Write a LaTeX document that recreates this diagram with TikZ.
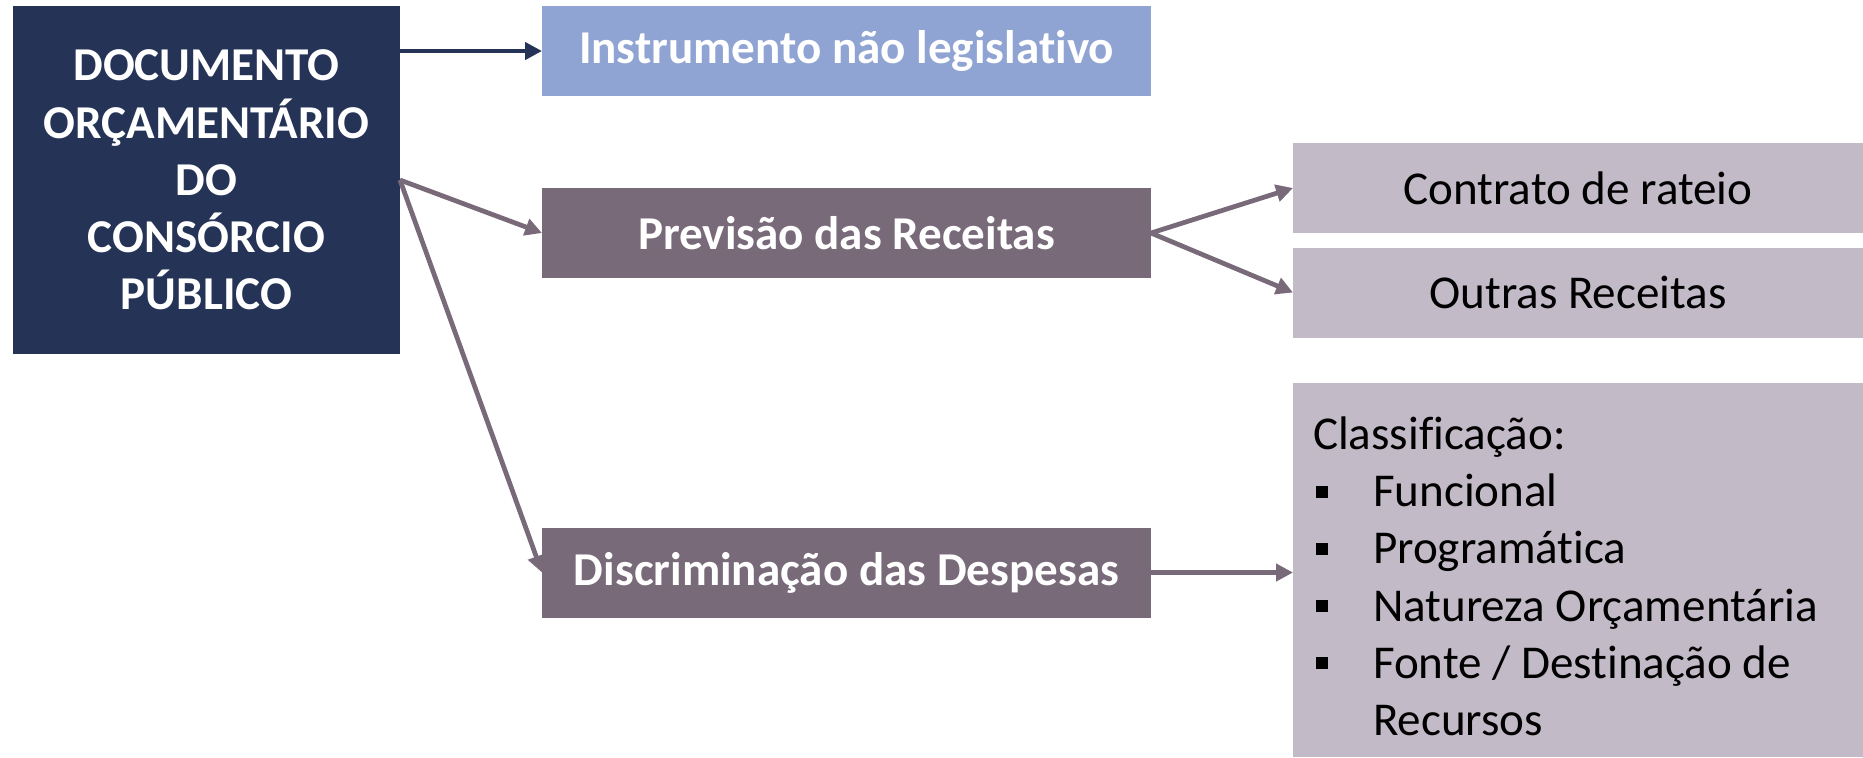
\documentclass[tikz,border=0pt]{standalone}
\usepackage{fontspec}
\setmainfont{Carlito}[Ligatures=NoCommon]
\usetikzlibrary{arrows.meta}
\definecolor{navy}{HTML}{253356}
\definecolor{lightblue}{HTML}{8FA4D2}
\definecolor{mauve}{HTML}{786A79}
\definecolor{lightmauve}{HTML}{C2BAC7}
\newcommand{\sqbullet}{\makebox[6mm][l]{\hspace{0.3mm}\rule[0.9mm]{1.2mm}{1.2mm}}}
\begin{document}
\begin{tikzpicture}[x=0.1mm,y=-0.1mm,
  every node/.style={inner sep=0pt,outer sep=0pt},
  txt/.style={font=\fontsize{13.4}{16.3}\selectfont},
  boldtxt/.style={font=\fontsize{13.4}{16.3}\selectfont\bfseries,text=white},
  docbox/.style={boldtxt,fill=navy,align=center,minimum width=38.7mm,minimum height=34.8mm},
  topbox/.style={boldtxt,fill=lightblue,minimum width=60.9mm,minimum height=9mm},
  midbox/.style={boldtxt,fill=mauve,minimum width=60.9mm,minimum height=9mm},
  itembox/.style={txt,fill=lightmauve,minimum width=57mm,minimum height=9mm},
  arr/.style={line width=1.35pt,draw=mauve,-{Triangle[length=4.8pt,width=4.8pt]}}]
\useasboundingbox (0,0) rectangle (1863,757);
% boxes
\node[docbox] (doc) at (206.5,180) {DOCUMENTO\\OR\c{C}AMENT\'ARIO\\DO\\CONS\'ORCIO\\P\'UBLICO};
\node[topbox] (instr) at (846.5,51) {Instrumento não legislativo};
\node[midbox] (prev) at (846.5,233) {Previsão das Receitas};
\node[midbox] (disc) at (846.5,572.5) {Discriminação das Despesas};
\node[itembox] (contr) at (1578,188) {Contrato de rateio};
\node[itembox] (outras) at (1578,292.5) {Outras Receitas};
\node[itembox,minimum height=37.4mm,text width=53mm,inner xsep=2mm,align=flush left] (classif) at (1578,570)
  {\rule{0pt}{12.9pt}Classificação:\\
   \sqbullet Funcional\\
   \sqbullet Programática\\
   \sqbullet Natureza Orçamentária\\
   \sqbullet Fonte / Destinação de\\
   \hspace*{6mm}Recursos};
% arrows
\draw[arr,draw=navy] (doc.east |- instr) -- (instr.west);
\draw[arr] (doc.east) -- (prev.west);
\draw[arr] (doc.east) -- (disc.west);
\draw[arr] (prev.east) -- (contr.west);
\draw[arr] (prev.east) -- (outras.west);
\draw[arr] (disc.east) -- (classif.west |- disc.east);
\end{tikzpicture}
\end{document}
